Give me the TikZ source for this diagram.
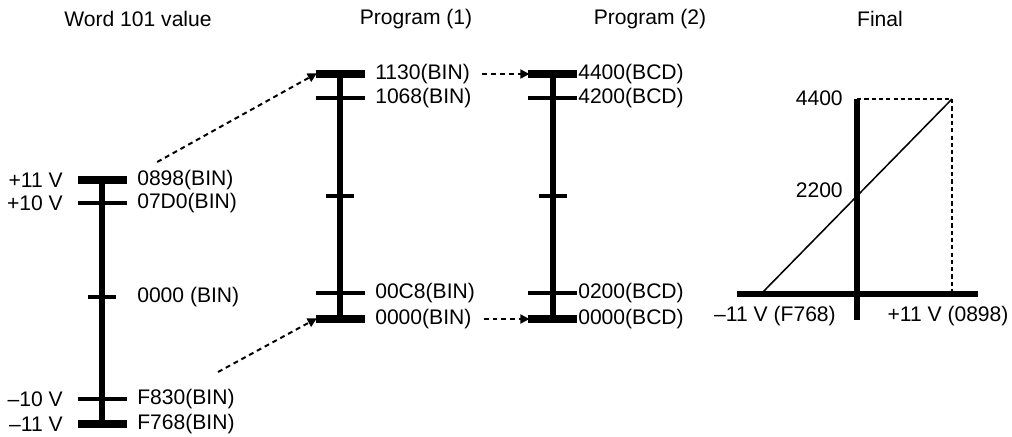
\documentclass[tikz,border=0pt]{standalone}
\usepackage{fontspec}
\setmainfont{Liberation Sans}
\usepackage{tikz}
\usetikzlibrary{arrows.meta, positioning, calc}
\tikzset{
  scaleline/.style={line width=4.5pt, color=black},
  bigtick/.style={line width=5.5pt, color=black},
  smalltick/.style={line width=2.4pt, color=black},
  lbl/.style={inner sep=0pt, font=\fontsize{15}{18}\selectfont},
  ttl/.style={inner sep=0pt, font=\fontsize{15}{18}\selectfont},
  dotarrow/.style={line width=1.4pt, dash pattern=on 3.5pt off 2.8pt,
    -{Triangle[length=6.5pt, width=6.5pt]}, shorten >=-1pt},
  guide/.style={line width=0.8pt, dash pattern=on 3pt off 2.2pt},
  ramp/.style={line width=1.1pt}
}

\begin{document}
\begin{tikzpicture}
  \useasboundingbox (0,0) rectangle (25.3,-10.9);

  % Titles
  \node[ttl] (t-word) at (3.45,-0.475) {Word 101 value};
  \node[ttl] (t-prog1) at (10.4,-0.475) {Program (1)};
  \node[ttl] (t-prog2) at (16.25,-0.475) {Program (2)};
  \node[ttl] (t-final) at (22.0,-0.475) {Final};

  % Word 101 value scale
  \draw[scaleline] (2.55,-4.5) -- (2.55,-10.6);
  \draw[bigtick] (1.94,-4.5) -- (3.175,-4.5);
  \draw[smalltick] (1.94,-5.075) -- (3.175,-5.075);
  \draw[smalltick] (2.2,-7.425) -- (2.9,-7.425);
  \draw[smalltick] (1.94,-9.975) -- (3.175,-9.975);
  \draw[bigtick] (1.94,-10.6) -- (3.175,-10.6);

  \node[lbl, anchor=east] (w-p11) at (1.575,-4.5) {+11 V};
  \node[lbl, anchor=east] (w-p10) at (1.575,-5.075) {+10 V};
  \node[lbl, anchor=east] (w-m10) at (1.575,-9.975) {–10 V};
  \node[lbl, anchor=east] (w-m11) at (1.575,-10.6) {–11 V};
  \node[lbl, anchor=west] (w-top) at (3.425,-4.5) {0898(BIN)};
  \node[lbl, anchor=west] (w-ten) at (3.425,-5.075) {07D0(BIN)};
  \node[lbl, anchor=west] (w-mid) at (3.425,-7.425) {0000 (BIN)};
  \node[lbl, anchor=west] (w-mten) at (3.425,-9.975) {F830(BIN)};
  \node[lbl, anchor=west] (w-bot) at (3.425,-10.6) {F768(BIN)};

  % Program (1) scale
  \draw[scaleline] (8.5,-1.85) -- (8.5,-7.975);
  \draw[bigtick] (7.89,-1.85) -- (9.125,-1.85);
  \draw[smalltick] (7.89,-2.45) -- (9.125,-2.45);
  \draw[smalltick] (8.15,-4.9) -- (8.85,-4.9);
  \draw[smalltick] (7.89,-7.325) -- (9.125,-7.325);
  \draw[bigtick] (7.89,-7.975) -- (9.125,-7.975);

  \coordinate (p1-top) at (7.89,-1.85);
  \coordinate (p1-bot) at (7.89,-7.975);
  \node[lbl, anchor=west] (p1-a) at (9.375,-1.85) {1130(BIN)};
  \node[lbl, anchor=west] (p1-b) at (9.375,-2.45) {1068(BIN)};
  \node[lbl, anchor=west] (p1-c) at (9.375,-7.325) {00C8(BIN)};
  \node[lbl, anchor=west] (p1-d) at (9.375,-7.975) {0000(BIN)};

  % Program (2) scale
  \draw[scaleline] (13.825,-1.85) -- (13.825,-7.975);
  \draw[bigtick] (13.2,-1.85) -- (14.425,-1.85);
  \draw[smalltick] (13.2,-2.45) -- (14.425,-2.45);
  \draw[smalltick] (13.475,-4.9) -- (14.175,-4.9);
  \draw[smalltick] (13.2,-7.325) -- (14.425,-7.325);
  \draw[bigtick] (13.2,-7.975) -- (14.425,-7.975);

  \coordinate (p2-top) at (13.2,-1.85);
  \coordinate (p2-bot) at (13.2,-7.975);
  \node[lbl, anchor=west] (p2-a) at (14.45,-1.85) {4400(BCD)};
  \node[lbl, anchor=west] (p2-b) at (14.45,-2.45) {4200(BCD)};
  \node[lbl, anchor=west] (p2-c) at (14.45,-7.325) {0200(BCD)};
  \node[lbl, anchor=west] (p2-d) at (14.45,-7.975) {0000(BCD)};

  % Mapping arrows
  \coordinate (w-up) at (3.93,-4.05);
  \coordinate (w-dn) at (5.45,-9.3);
  \draw[dotarrow] (w-up) -- (p1-top);
  \draw[dotarrow] (w-dn) -- (p1-bot);
  \draw[dotarrow] ([xshift=0.3cm]p1-a.east) -- (p2-top);
  \draw[dotarrow] ([xshift=0.3cm]p1-d.east) -- (p2-bot);

  % Final graph
  \coordinate (origin) at (21.425,-7.35);
  \coordinate (low) at (19.025,-7.35);
  \coordinate (high) at (23.8,-2.475);
  \coordinate (yhigh) at (21.425,-2.475);
  \coordinate (xhigh) at (23.8,-7.35);
  \draw[scaleline] (18.425,-7.35) -- (24.45,-7.35);
  \draw[scaleline] (21.425,-2.475) -- (21.425,-8.0);
  \draw[ramp] (low) -- (high);
  \draw[guide] (yhigh) -- (high);
  \draw[guide] (high) -- (xhigh);

  \node[lbl, anchor=east] (f-4400) at (21.075,-2.45) {4400};
  \node[lbl, anchor=east] (f-2200) at (21.075,-4.75) {2200};
  \node[lbl] (f-neg) at (19.375,-7.9) {–11 V (F768)};
  \node[lbl] (f-pos) at (23.7,-7.9) {+11 V (0898)};
\end{tikzpicture}
\end{document}
